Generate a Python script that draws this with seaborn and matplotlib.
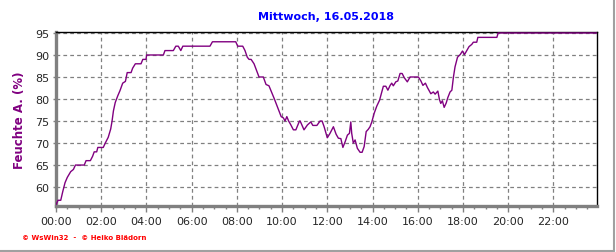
import matplotlib
matplotlib.use("Agg")
import matplotlib.pyplot as plt
import seaborn as sns
import pandas as pd
from matplotlib.lines import Line2D
from matplotlib.ticker import MultipleLocator, FixedLocator

hours = [0.00, 0.09, 0.21, 0.30, 0.40, 0.50, 0.65, 0.77, 0.86, 1.25, 1.33, 1.52, 1.62, 1.69,
         1.80, 1.85, 2.09, 2.18, 2.31, 2.42, 2.48, 2.54, 2.62, 2.73, 2.83, 2.95, 3.07, 3.15,
         3.32, 3.39, 3.51, 3.76, 3.84, 3.98, 4.01, 4.75, 4.82, 5.19, 5.30, 5.41, 5.52, 5.61,
         6.81, 6.92, 7.95, 8.04, 8.26, 8.36, 8.46, 8.54, 8.63, 8.76, 8.88, 8.98, 9.17, 9.29,
         9.42, 9.50, 9.58, 9.66, 9.77, 9.87, 9.96, 10.06, 10.13, 10.21, 10.29, 10.38, 10.50,
         10.61, 10.77, 10.80, 10.97, 11.12, 11.27, 11.36, 11.54, 11.68, 11.77, 11.86, 12.00,
         12.12, 12.27, 12.39, 12.49, 12.60, 12.69, 12.79, 12.89, 12.98, 13.04, 13.08, 13.15,
         13.23, 13.33, 13.45, 13.54, 13.63, 13.72, 13.81, 13.89, 13.97, 14.07, 14.19, 14.31,
         14.41, 14.48, 14.59, 14.68, 14.78, 14.85, 14.92, 15.03, 15.12, 15.22, 15.31, 15.41,
         15.54, 15.66, 16.03, 16.14, 16.23, 16.34, 16.43, 16.58, 16.69, 16.77, 16.89, 16.96,
         17.02, 17.09, 17.17, 17.26, 17.33, 17.43, 17.51, 17.58, 17.65, 17.76, 17.88, 17.98,
         18.07, 18.17, 18.27, 18.39, 18.46, 18.61, 18.66, 19.50, 19.56, 23.92]
humidity = [56.0, 57.0, 57.0, 59.0, 61.0, 62.2, 63.5, 64.0, 65.0, 65.0, 66.0, 66.0, 67.0, 68.0,
            68.0, 69.0, 69.0, 70.0, 71.3, 73.2, 75.0, 77.3, 79.2, 80.7, 81.9, 83.6, 84.0, 86.0,
            86.0, 87.0, 88.0, 88.0, 89.0, 89.0, 90.0, 90.0, 91.0, 91.0, 92.0, 92.0, 91.0, 92.0,
            92.0, 93.0, 93.0, 92.0, 92.0, 91.0, 89.5, 89.0, 89.0, 88.0, 86.4, 85.0, 85.0, 83.3,
            83.0, 82.0, 81.0, 80.0, 78.5, 77.2, 76.0, 75.7, 75.0, 76.0, 75.0, 74.2, 73.0,
            73.0, 75.0, 75.0, 73.0, 74.1, 74.8, 74.0, 74.0, 75.0, 75.0, 73.7, 71.2,
            72.2, 73.7, 72.0, 71.1, 71.0, 69.0, 70.3, 71.8, 72.2, 74.8, 72.2, 70.0,
            70.7, 68.8, 67.9, 67.9, 69.2, 72.6, 73.1, 73.7, 74.8, 76.7, 78.4, 79.7,
            81.6, 82.9, 82.9, 82.0, 83.1, 83.6, 83.0, 83.9, 84.1, 85.8, 85.8, 84.8,
            83.9, 85.0, 85.0, 84.1, 83.1, 83.6, 82.6, 81.2, 81.6, 81.1, 81.8, 79.9,
            79.0, 79.6, 78.1, 79.1, 80.3, 81.6, 82.0, 85.0, 87.3, 89.5, 90.1, 90.9,
            90.1, 91.0, 91.9, 92.4, 92.9, 92.9, 94.0, 94.0, 95.0, 95.0]

x_ticks = [0, 2, 4, 6, 8, 10, 12, 14, 16, 18, 20, 22]
x_labels = ["00:00", "02:00", "04:00", "06:00", "08:00", "10:00",
            "12:00", "14:00", "16:00", "18:00", "20:00", "22:00"]
y_ticks = [60, 65, 70, 75, 80, 85, 90, 95]

title = "Mittwoch, 16.05.2018"
ylabel = "Feuchte A. (%)"
footer = "© WsWin32  -  © Heiko Blädorn"

sns.set_style("white")
plt.rcParams['font.family'] = ['DejaVu Sans']

df = pd.DataFrame({"h": hours, "v": humidity})

fig = plt.figure(figsize=(6.16, 2.53), dpi=100)
ax = fig.add_axes([56/616, 1-207/253, (597-56)/616, (207-33)/253])

sns.lineplot(data=df, x="h", y="v", ax=ax, color="#800080", linewidth=1.0, zorder=5)

ax.set_xlim(0, 23.93)
ax.set_ylim(55.7, 95.22)
ax.xaxis.set_major_locator(FixedLocator(x_ticks))
ax.set_xticklabels(x_labels)
ax.xaxis.set_minor_locator(MultipleLocator(0.5))
ax.yaxis.set_major_locator(FixedLocator(y_ticks))
ax.yaxis.set_minor_locator(MultipleLocator(1))

ax.grid(True, which="major", color="#808080", linestyle=(0, (3, 2.5)), linewidth=0.9)
ax.set_axisbelow(True)

for s in ["left", "bottom"]:
    ax.spines[s].set_color("#808080")
    ax.spines[s].set_linewidth(2.4)
for s in ["top", "right"]:
    ax.spines[s].set_color("black")
    ax.spines[s].set_linewidth(1.0)
    ax.spines[s].set_visible(True)

ax.tick_params(axis="x", which="major", direction="out", length=4, width=1, color="#808080",
               labelsize=8, pad=3, bottom=True)
ax.tick_params(axis="x", which="minor", direction="out", length=2.5, width=1, color="#808080",
               bottom=True)
ax.tick_params(axis="y", which="major", direction="out", length=2, width=1, color="#808080",
               labelsize=8, pad=3, left=True)
ax.tick_params(axis="y", which="minor", length=0)

ax.set_xlabel("")
ax.set_ylabel(ylabel, color="#800080", fontsize=8.5, fontweight="bold")
ax.yaxis.set_label_coords(-30/541, 0.5)

fig.text(326.5/616, 1-17/253, title, color="#0000FF", fontsize=8, fontweight="bold",
         ha="center", va="center")
fig.text(22/616, 1-238/253, footer, color="#FF0000", fontsize=5, fontweight="bold",
         ha="left", va="center")

fig.add_artist(Line2D([0, 614/616], [1-252/253, 1-252/253], color="#A0A0A0", linewidth=1.5))
fig.add_artist(Line2D([614/616, 614/616], [1-252/253, 1], color="#A0A0A0", linewidth=1.5))

fig.savefig("out.png", dpi=100)
